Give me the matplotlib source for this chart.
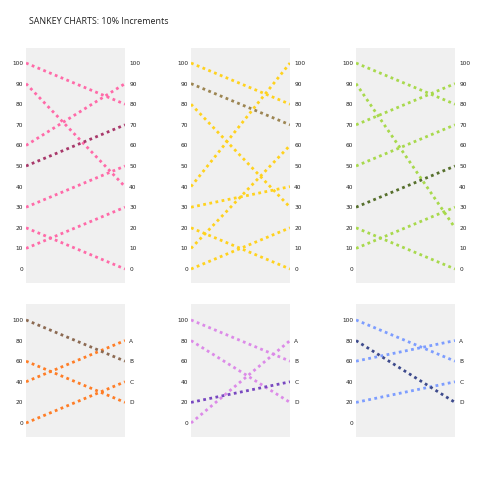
import matplotlib
matplotlib.use("Agg")
import matplotlib.pyplot as plt

# top row: 0-100 in steps of 10, left value -> right value
pink_left = [100, 90, 60, 30, 20, 10, 50]
pink_right = [80, 40, 90, 50, 0, 30, 70]
yellow_left = [100, 80, 40, 30, 20, 10, 0, 90]
yellow_right = [80, 30, 100, 40, 0, 60, 20, 70]
green_left = [100, 90, 70, 50, 20, 10, 30]
green_right = [80, 20, 90, 70, 0, 30, 50]

# bottom row: 0-100 on the left, A-D on the right
orange_left = [60, 40, 0, 100]
orange_right = [20, 80, 40, 60]
purple_left = [100, 80, 0, 20]
purple_right = [60, 20, 80, 40]
blue_left = [100, 60, 20, 80]
blue_right = [60, 80, 40, 20]

top_ticks = list(range(0, 101, 10))
bottom_ticks = [0, 20, 40, 60, 80, 100]
letter_ticks = [80, 60, 40, 20]
letter_labels = ["A", "B", "C", "D"]

top_panels = [
    (pink_left, pink_right, "#ff6aa8", "#a8386a"),
    (yellow_left, yellow_right, "#ffd21e", "#9c8552"),
    (green_left, green_right, "#a8d94c", "#566f2c"),
]
bottom_panels = [
    (orange_left, orange_right, "#ff7d26", "#8c6a52"),
    (purple_left, purple_right, "#dc8ae8", "#7848c0"),
    (blue_left, blue_right, "#7d9dff", "#3d4a8c"),
]

fig = plt.figure(figsize=(5, 5), dpi=100)
fig.patch.set_facecolor("white")
fig.text(0.058, 0.958, "SANKEY CHARTS: 10% Increments", fontsize=6.4,
         family="Open Sans", color="#222222", va="center")

xs = [0.052, 0.382, 0.712]


def draw(ax, left, right, col, dark, ylim, lticks, rticks, rlabels):
    ax.set_facecolor("#f0f0f0")
    n = len(left)
    for i in range(n):
        c = dark if i == n - 1 else col
        ax.plot([0, 1], [left[i], right[i]], color=c, lw=2.0,
                dashes=(1.0, 1.25), dash_capstyle="butt", zorder=2 + (i == n - 1))
    ax.set_xlim(0, 1)
    ax.set_ylim(*ylim)
    ax.set_xticks([])
    ax.set_yticks(lticks)
    ax.set_yticklabels([str(t) for t in lticks])
    ax.tick_params(axis="y", length=0, pad=2, labelsize=4.2, labelcolor="#222222")
    for s in ax.spines.values():
        s.set_visible(False)
    ax2 = ax.twinx()
    ax2.set_ylim(*ylim)
    ax2.set_yticks(rticks)
    ax2.set_yticklabels(rlabels)
    ax2.tick_params(axis="y", length=0, pad=3, labelsize=4.2, labelcolor="#222222")
    for s in ax2.spines.values():
        s.set_visible(False)


for x, (l, r, c, d) in zip(xs, top_panels):
    ax = fig.add_axes([x, 0.434, 0.198, 0.47])
    draw(ax, l, r, c, d, (-6.8, 107.3), top_ticks, top_ticks,
         [str(t) for t in top_ticks])

for x, (l, r, c, d) in zip(xs, bottom_panels):
    ax = fig.add_axes([x, 0.126, 0.198, 0.266])
    draw(ax, l, r, c, d, (-13.6, 115.5), bottom_ticks, letter_ticks,
         letter_labels)

fig.savefig("out.png", dpi=100)
